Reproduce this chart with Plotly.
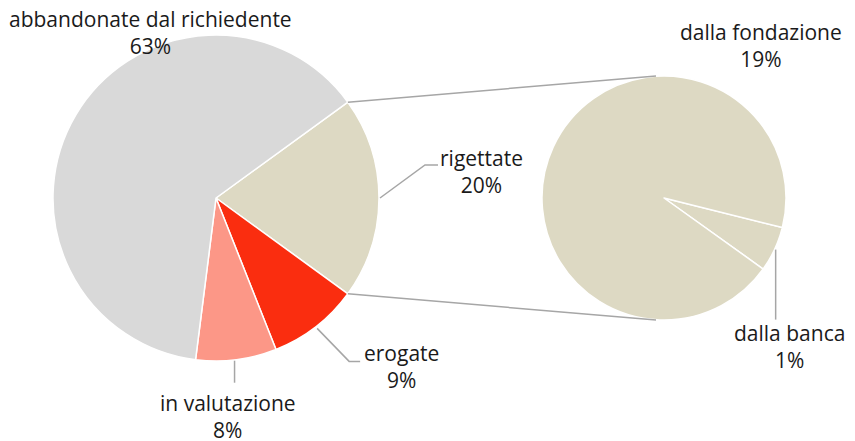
import math
import plotly.graph_objects as go

W, H = 855, 441
OFF = 8  # page body margin compensation

# ---- data ----
main_labels = ["rigettate", "erogate", "in valutazione", "abbandonate dal richiedente"]
main_values = [20, 9, 8, 63]
main_colors = ["#ddd9c3", "#fa2d0f", "#fc9787", "#d9d9d9"]

sub_labels = ["dalla banca", "dalla fondazione"]
sub_values = [1.2, 18.8]
sub_texts = ["1%", "19%"]
sub_color = "#ddd9c3"

# ---- geometry (pixels, in reference coordinates) ----
L_CX, L_CY, L_R = 216, 198, 163
R_CX, R_CY, R_R = 664, 198, 122
L_ROT = 54
R_ROT = 104


def px(x, y):
    return (x - OFF) / W, 1 - (y - OFF) / H


def domain(cx, cy, r):
    x0, y1 = px(cx - r, cy - r)
    x1, y0 = px(cx + r, cy + r)
    return dict(x=[x0, x1], y=[y0, y1])


def slice_angles(values, rot):
    tot = sum(values)
    a = 90 - rot
    out = []
    for v in values:
        b = a - 360 * v / tot
        out.append((a, b))
        a = b
    return out


def pt(cx, cy, r, ang):
    return cx + r * math.cos(math.radians(ang)), cy - r * math.sin(math.radians(ang))


fig = go.Figure()
fig.add_trace(go.Pie(
    labels=main_labels, values=main_values, sort=False, direction="clockwise",
    rotation=L_ROT, textinfo="none", hoverinfo="label+percent",
    marker=dict(colors=main_colors, line=dict(color="white", width=1.5)),
    domain=domain(L_CX, L_CY, L_R), showlegend=False))
fig.add_trace(go.Pie(
    labels=sub_labels, values=sub_values, sort=False, direction="clockwise",
    rotation=R_ROT, textinfo="none", hoverinfo="label",
    marker=dict(colors=[sub_color, sub_color], line=dict(color="white", width=1.5)),
    domain=domain(R_CX, R_CY, R_R), showlegend=False))

LINE = dict(color="#a6a6a6", width=1.5)
shapes = []


def seg(pts):
    path = "M " + " L ".join(f"{px(x, y)[0]},{px(x, y)[1]}" for x, y in pts)
    shapes.append(dict(type="path", path=path, xref="paper", yref="paper", line=LINE))


la = slice_angles(main_values, L_ROT)
ra = slice_angles(sub_values, R_ROT)

# connectors between pies (edges of "rigettate")
a_top, a_bot = la[0]
seg([pt(L_CX, L_CY, L_R, a_top), (R_CX - 8, R_CY - R_R)])
seg([pt(L_CX, L_CY, L_R, a_bot), (R_CX - 8, R_CY + R_R)])


def mid(a):
    return (a[0] + a[1]) / 2


# leader lines
s = pt(L_CX, L_CY, L_R + 1, mid(la[0]))
seg([s, (s[0] + 45, s[1] - 33), (s[0] + 58, s[1] - 33)])
s = pt(L_CX, L_CY, L_R + 2, mid(la[1]))
seg([s, (s[0] + 32, s[1] + 33), (s[0] + 43, s[1] + 33)])
s = pt(L_CX, L_CY, L_R + 1, mid(la[2]))
seg([(s[0] - 2, s[1]), (s[0] - 2, s[1] + 22)])
s = pt(R_CX, R_CY, R_R + 1, mid(ra[0]))
seg([s, (s[0], s[1] + 70)])

FONT = dict(family="Open Sans, Lato, sans-serif", size=21, color="#1a1a1a")
ann = []


def label(text, x, y):
    X, Y = px(x, y)
    ann.append(dict(text=text, x=X, y=Y, xref="paper", yref="paper", showarrow=False,
                    xanchor="center", yanchor="middle", font=FONT, align="center"))


label(f"{main_labels[3]}<br>{main_values[3]}%", 150, 33)
label(f"{main_labels[0]}<br>{main_values[0]}%", 481, 171)
label(f"{main_labels[1]}<br>{main_values[1]}%", 401, 366)
label(f"{main_labels[2]}<br>{main_values[2]}%", 228, 416)
label(f"{sub_labels[1]}<br>{sub_texts[1]}", 761, 45)
label(f"{sub_labels[0]}<br>{sub_texts[0]}", 789, 346)

fig.update_layout(width=W, height=H, margin=dict(l=0, r=0, t=0, b=0),
                  paper_bgcolor="white", plot_bgcolor="white",
                  shapes=shapes, annotations=ann)
fig.write_html("out.html")
